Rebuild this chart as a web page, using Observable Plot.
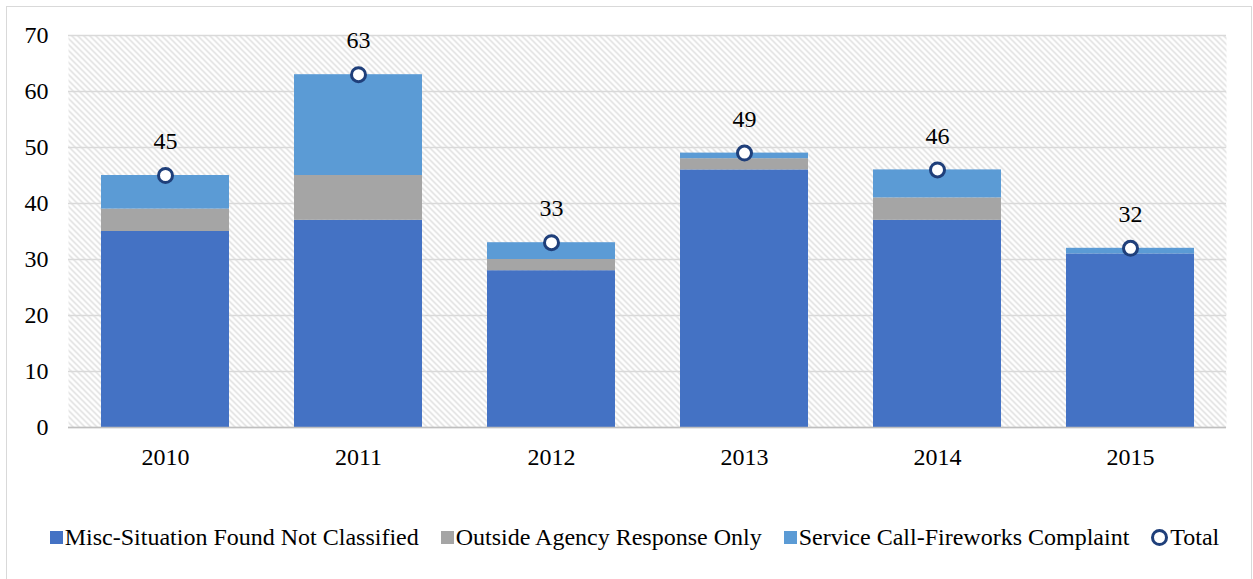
<!DOCTYPE html>
<html>
<head>
<meta charset="utf-8">
<script src="https://cdn.jsdelivr.net/npm/d3@7"></script>
<script src="https://cdn.jsdelivr.net/npm/@observablehq/plot@0.6"></script>
<style>
  html, body { margin: 0; padding: 0; background: #fff; overflow: hidden; }
  body { width: 1253px; height: 579px; position: relative; font-family: 'Liberation Serif', serif; }
  #frame { position: absolute; left: 6px; top: 6px; width: 1246px; height: 600px; border: 1.5px solid #d9d9d9; box-sizing: border-box; }
  #chart { position: absolute; left: 0; top: 0; }
  #chart svg, #chart svg text { font-family: 'Liberation Serif', serif !important; }
  #legend { position: absolute; left: 8px; top: 522px; width: 1253px; display: flex; justify-content: center; align-items: center; font-size: 24px; line-height: 30px; color: #000; }
  .item { display: flex; align-items: center; margin: 0 11px 0 11px; }
  .sw { width: 13px; height: 13px; margin-right: 2px; }
  .circ { width: 11px; height: 11px; border: 3px solid #1F3F7A; border-radius: 50%; background: #fff; margin-right: 2px; box-sizing: content-box; }
</style>
</head>
<body>
<div id="frame"></div>
<div id="chart"></div>
<div id="legend"></div>
<script>
const years = ["2010", "2011", "2012", "2013", "2014", "2015"];
const misc = [35, 37, 28, 46, 37, 31];
const outside = [4, 8, 2, 2, 4, 0];
const service = [6, 18, 3, 1, 5, 1];
const totals = [45, 63, 33, 49, 46, 32];
const seriesNames = ["Misc-Situation Found Not Classified", "Outside Agency Response Only", "Service Call-Fireworks Complaint"];
const seriesColors = ["#4472C4", "#A5A5A5", "#5B9BD5"];
const yTicks = [0, 10, 20, 30, 40, 50, 60, 70];

const seriesValues = [misc, outside, service];
const rows = [];
years.forEach((yr, i) => {
  seriesValues.forEach((vals, s) => {
    rows.push({year: yr, series: seriesNames[s], value: vals[i]});
  });
});
const totalRows = years.map((yr, i) => ({year: yr, total: totals[i]}));

const W = 1253, H = 490;
const plot = Plot.plot({
  width: W,
  height: H,
  marginLeft: 68,
  marginRight: 27,
  marginTop: 35,
  marginBottom: 63,
  style: {fontFamily: "Liberation Serif, serif", fontSize: "24px", color: "#000", background: "transparent"},
  x: {domain: years, paddingInner: 0.337, paddingOuter: 0.1685, label: null, tickSize: 0, tickPadding: 20},
  y: {domain: [0, 70], ticks: yTicks, label: null, tickSize: 0, tickPadding: 20},
  color: {domain: seriesNames, range: seriesColors},
  marks: [
    Plot.frame({fill: "url(#hatch)", stroke: null}),
    Plot.gridY(yTicks, {stroke: "#d9d9d9", strokeOpacity: 1, strokeWidth: 1.5}),
    Plot.ruleX(d3.range(years.length + 1), {
      x: (d) => d,
      render: (index, scales, values, dims, ctx) => {
        const g = d3.create("svg:g");
        const xs = scales.x;
        const step = xs.step();
        const x0 = xs(years[0]) - xs.paddingOuter() * step;
        for (let k = 0; k <= years.length; k++) {
          const x = x0 + k * step;
          g.append("line").attr("x1", x).attr("x2", x)
            .attr("y1", dims.marginTop).attr("y2", dims.height - dims.marginBottom + 6)
            .attr("stroke", "#d9d9d9").attr("stroke-width", 1.5);
        }
        return g.node();
      }
    }),
    Plot.barY(rows, Plot.stackY({x: "year", y: "value", fill: "series", order: seriesNames})),
    Plot.ruleY([0], {stroke: "#bfbfbf", strokeWidth: 1.5}),
    Plot.dot(totalRows, {x: "year", y: "total", r: 7, fill: "#fff", stroke: "#1F3F7A", strokeWidth: 3}),
    Plot.text(totalRows, {x: "year", y: "total", text: (d) => String(d.total), dy: -34, fontSize: 24, fill: "#000"})
  ]
});

// hatch pattern defs
const svg = d3.select(plot);
const defs = svg.insert("defs", ":first-child");
const pat = defs.append("pattern").attr("id", "hatch").attr("patternUnits", "userSpaceOnUse")
  .attr("width", 6).attr("height", 6);
pat.append("rect").attr("width", 6).attr("height", 6).attr("fill", "#fff");
pat.append("path").attr("d", "M-1,-1 L7,7 M-1,5 L1,7 M5,-1 L7,1").attr("stroke", "#dadada").attr("stroke-width", 1.3);

document.getElementById("chart").appendChild(plot);

// legend
const legend = document.getElementById("legend");
seriesNames.forEach((name, i) => {
  const it = document.createElement("div");
  it.className = "item";
  const sw = document.createElement("div");
  sw.className = "sw";
  sw.style.background = seriesColors[i];
  it.appendChild(sw);
  it.appendChild(document.createTextNode(name));
  legend.appendChild(it);
});
const tItem = document.createElement("div");
tItem.className = "item";
const c = document.createElement("div");
c.className = "circ";
tItem.appendChild(c);
tItem.appendChild(document.createTextNode("Total"));
legend.appendChild(tItem);
</script>
</body>
</html>
